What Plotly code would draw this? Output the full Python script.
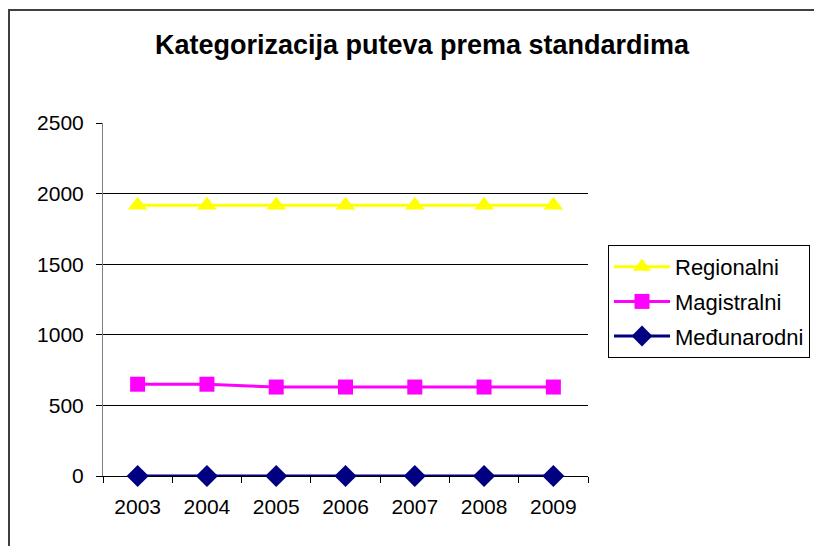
import plotly.graph_objects as go

years = ["2003", "2004", "2005", "2006", "2007", "2008", "2009"]
regionalni = [1918, 1918, 1918, 1918, 1918, 1918, 1918]
magistralni = [650, 650, 630, 630, 630, 630, 630]
medjunarodni = [0, 0, 0, 0, 0, 0, 0]
y_ticks = [0, 500, 1000, 1500, 2000, 2500]

fig = go.Figure()
series = [
    ("Regionalni", regionalni, "#FFFF00", "triangle-up", 17),
    ("Magistralni", magistralni, "#FF00FF", "square", 15),
    ("Međunarodni", medjunarodni, "#000080", "diamond", 17),
]
for name, vals, col, sym, sz in series:
    fig.add_trace(go.Scatter(
        x=years, y=vals, name=name, mode="lines+markers",
        line=dict(color=col, width=3),
        marker=dict(symbol=sym, size=sz, color=col, line=dict(width=0)),
        legendgroup=name, cliponaxis=False,
    ))

OFF = 8  # page body offset
W, H = 822 - OFF, 546 - OFF
L, T = 103 - OFF, 123 - OFF
R = 822 - 588
B = 546 - 476
pw, ph = W - L - R, H - T - B

fig.update_layout(
    width=W, height=H,
    margin=dict(l=L, r=R, t=T, b=B, autoexpand=False),
    paper_bgcolor="white", plot_bgcolor="white",
    font=dict(family="Liberation Sans, Arial, sans-serif", size=21, color="black"),
    title=dict(text="<b>Kategorizacija puteva prema standardima</b>",
               x=(422 - OFF) / W, xanchor="center", y=1 - (45 - OFF) / H, yanchor="middle",
               font=dict(size=27)),
    showlegend=True,
    legend=dict(x=(608 - 103) / pw, xanchor="left", y=(476 - 245) / ph, yanchor="top",
                bordercolor="black", borderwidth=1, bgcolor="white",
                traceorder="grouped", tracegroupgap=3, itemwidth=56,
                font=dict(size=22)),
    xaxis=dict(type="category", range=[-0.5, 6.5], tickson="boundaries",
               ticks="outside", ticklen=6, tickcolor="black",
               showline=True, linecolor="black", linewidth=1,
               showgrid=False, zeroline=False, fixedrange=True,
               ticklabelstandoff=12, layer="below traces"),
    yaxis=dict(range=[0, 2500], tickvals=y_ticks, ticks="outside", ticklen=6,
               tickcolor="black", showline=True, linecolor="#808080", linewidth=1,
               showgrid=True, gridcolor="black", gridwidth=1, zeroline=False,
               fixedrange=True, ticklabelstandoff=8, layer="below traces"),
)

fig.add_shape(type="rect", xref="paper", yref="paper",
              x0=(9 - 103) / pw, x1=(W + 20 - L) / pw,
              y0=-(20 + B) / ph, y1=(476 - 10) / ph,
              line=dict(color="#404040", width=2), layer="below")

fig.write_html("out.html")
